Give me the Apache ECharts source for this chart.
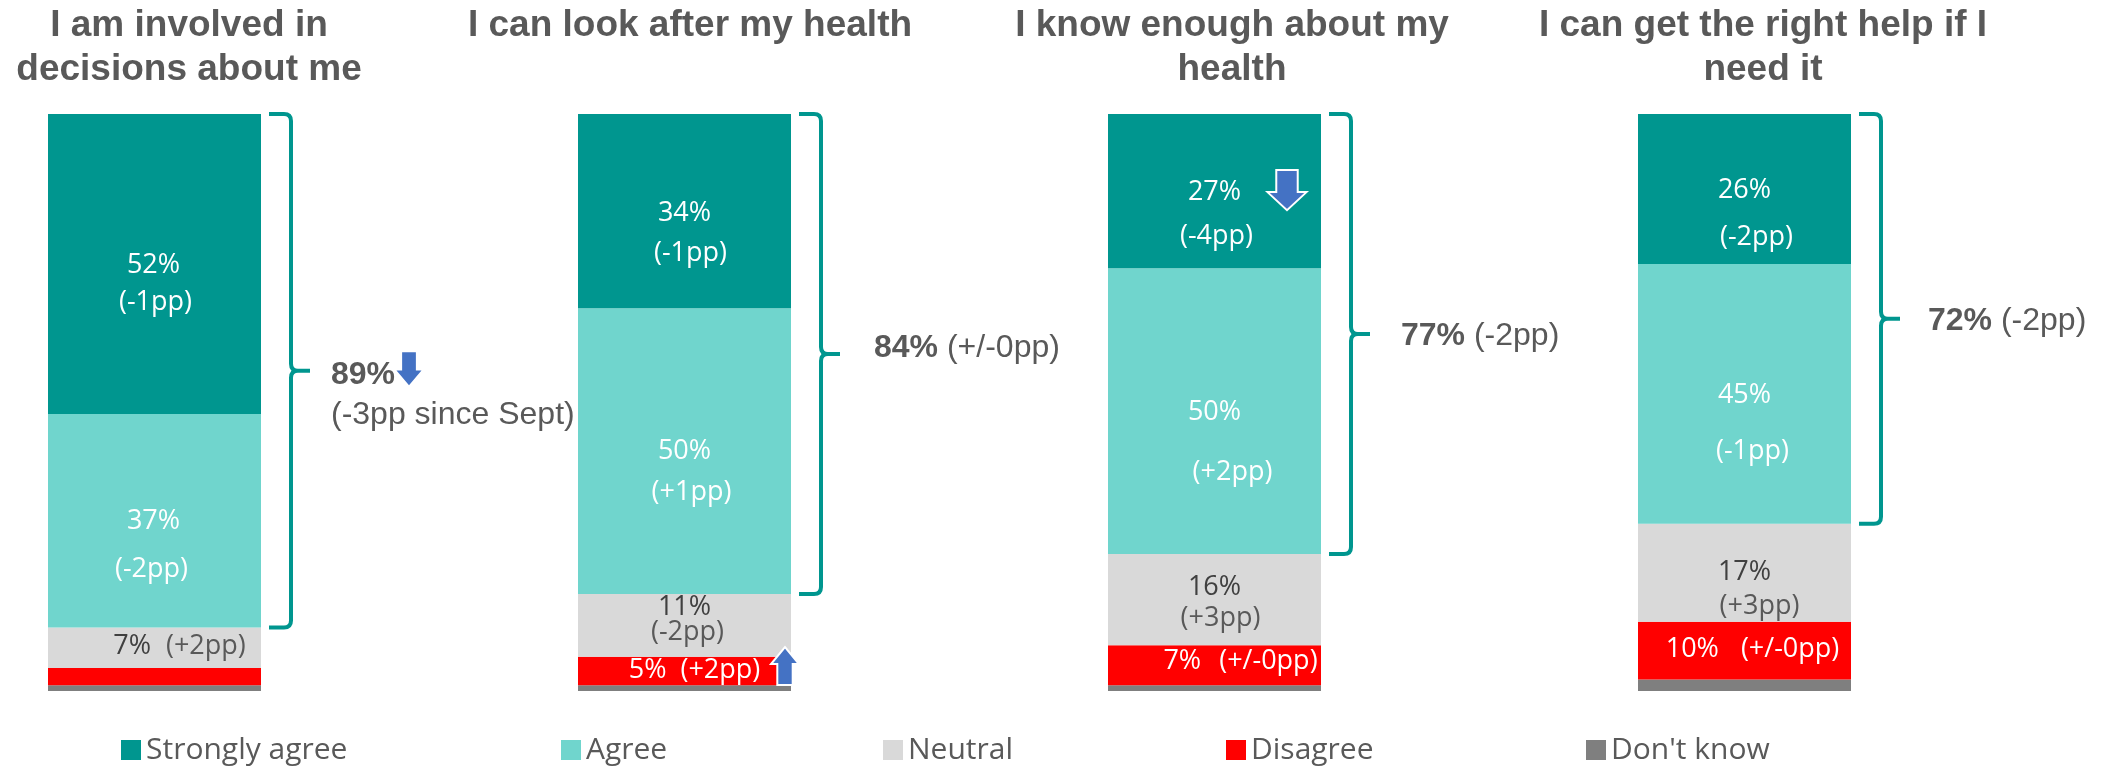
<!DOCTYPE html>
<html>
<head>
<meta charset="utf-8">
<script src="https://cdn.jsdelivr.net/npm/echarts@6/dist/echarts.min.js"></script>
<style>
  html, body { margin: 0; padding: 0; background: #fff; }
  #chart { width: 2113px; height: 767px; }
</style>
</head>
<body>
<div id="chart"></div>
<script>
// --- data -------------------------------------------------------------
const panelTitles = [
  'I am involved in\ndecisions about me',
  'I can look after my health',
  'I know enough about my\nhealth',
  'I can get the right help if I\nneed it'
]
const legendNames = ['Strongly agree', 'Agree', 'Neutral', 'Disagree', "Don't know"]

const stronglyAgree = [52, 34, 27, 26]
const agree = [37, 50, 50, 45]
const neutral = [7, 11, 16, 17]
const disagree = [3, 5, 7, 10]
const dontKnow = [1, 1, 1, 2]

const changeStronglyAgree = ['(-1pp)', '(-1pp)', '(-4pp)', '(-2pp)']
const changeAgree = ['(-2pp)', '(+1pp)', '(+2pp)', '(-1pp)']
const changeNeutral = ['(+2pp)', '(-2pp)', '(+3pp)', '(+3pp)']
const changeDisagree = [null, '(+2pp)', '(+/-0pp)', '(+/-0pp)']

const netAgree = [89, 84, 77, 72]
const netChange = ['(-3pp since Sept)', '(+/-0pp)', '(-2pp)', '(-2pp)']

// --- look & layout ------------------------------------------------------
const segOrder = ['dontKnow', 'disagree', 'neutral', 'agree', 'stronglyAgree'] // bottom -> top
const values = { stronglyAgree, agree, neutral, disagree, dontKnow }
const changes = {
  stronglyAgree: changeStronglyAgree,
  agree: changeAgree,
  neutral: changeNeutral,
  disagree: changeDisagree,
  dontKnow: [null, null, null, null]
}
const names = {
  stronglyAgree: legendNames[0],
  agree: legendNames[1],
  neutral: legendNames[2],
  disagree: legendNames[3],
  dontKnow: legendNames[4]
}
const colors = {
  stronglyAgree: '#00968F',
  agree: '#70D5CD',
  neutral: '#D9D9D9',
  disagree: '#FF0000',
  dontKnow: '#7F7F7F'
}
const braceColor = '#00968F'
const arrowColor = '#4472C4'
const textGrey = '#595959'
const labelFont = '"Open Sans", "Noto Sans", sans-serif'
const titleFont = '"Liberation Sans", Arial, sans-serif'

const barLeft = [48, 578, 1108, 1638]
const barWidthPx = 213
const gridTop = 114
const gridHeight = 577
const titleCenter = [189, 690, 1232, 1763]
const legendLeft = [121, 561, 883, 1226, 1586]

// label offsets inside each segment (dx2 = extra shift of 2nd line, gap = one-line layout)
const labelLayout = [
  {
    stronglyAgree: { dx: -1, dy: 20, lh: 37, dx2: 2 },
    agree: { dx: -1, dy: 25, lh: 48, dx2: -2 },
    neutral: { dx: 25, dy: -1, gap: 15 }
  },
  {
    stronglyAgree: { dx: 0, dy: 22, lh: 40, dx2: 6 },
    agree: { dx: 0, dy: 21, lh: 41, dx2: 7 },
    neutral: { dx: 0, dy: -5, lh: 25, dx2: 3 },
    disagree: { dx: 10, dy: -1, gap: 14 }
  },
  {
    stronglyAgree: { dx: 0, dy: 23, lh: 44, dx2: 2 },
    agree: { dx: 0, dy: 31, lh: 60, dx2: 18 },
    neutral: { dx: 0, dy: 3, lh: 31, dx2: 6 },
    disagree: { dx: 26, dy: -4, gap: 18 }
  },
  {
    stronglyAgree: { dx: 0, dy: 25, lh: 47, dx2: 12 },
    agree: { dx: 0, dy: 29, lh: 56, dx2: 8 },
    neutral: { dx: 0, dy: 17, lh: 34, dx2: 15 },
    disagree: { dx: 8, dy: -1, gap: 22 }
  }
]

const summaryLayout = [
  { dx: 21, dy: 24, wrap: true },
  { dx: 34, dy: -6 },
  { dx: 31, dy: 2 },
  { dx: 28, dy: 2 }
]

const arrowLayout = [
  [{ ref: 'tip', dx: 99, dy: -2, w: 25, h: 33, up: false, outline: false }],
  [{ ref: 'disagree', dx: -6, dy: -5, w: 28, h: 38, up: true, outline: true }],
  [{ ref: 'stronglyAgree', dx: -34, dy: -1, w: 39, h: 40, up: false, outline: true }],
  []
]

// --- helpers ------------------------------------------------------------
const buildLabel = (key, v, chg, lay) => {
  const dark = key === 'neutral'
  const base = { fontFamily: labelFont, fontSize: 27 }
  const pColor = dark ? '#404040' : '#fff'
  const cColor = dark ? textGrey : '#fff'
  if (lay.gap != null) {
    return {
      show: true,
      position: 'inside',
      offset: [lay.dx, lay.dy],
      formatter: `{p|${v}%}{c|${chg}}`,
      rich: {
        p: { ...base, color: pColor, lineHeight: 30 },
        c: { ...base, color: cColor, lineHeight: 30, padding: [0, 0, 0, lay.gap] }
      }
    }
  }
  const pad = lay.dx2 >= 0 ? [0, 0, 0, 2 * lay.dx2] : [0, -2 * lay.dx2, 0, 0]
  return {
    show: true,
    position: 'inside',
    offset: [lay.dx, lay.dy],
    formatter: `{p|${v}%}\n{c|${chg}}`,
    rich: {
      p: { ...base, color: pColor, lineHeight: lay.lh },
      c: { ...base, color: cColor, lineHeight: lay.lh, padding: pad }
    }
  }
}

const arrowPoints = (cx, cy, w, h, up) => {
  const sw = w * 0.55
  const hh = h * 0.45
  const pts = [
    [cx - sw / 2, 0], [cx + sw / 2, 0], [cx + sw / 2, h - hh], [cx + w / 2, h - hh],
    [cx, h], [cx - w / 2, h - hh], [cx - sw / 2, h - hh]
  ]
  return pts.map(([x, y]) => [x, up ? cy + h / 2 - y : cy - h / 2 + y])
}

const makeBrace = (i) => (params, api) => {
  const lo = api.value(1)
  const hi = api.value(2)
  const pTop = api.coord([0, hi])
  const pBot = api.coord([0, lo])
  const band = api.size([1, 0])[0]
  const right = pTop[0] + band / 2
  const sx = right + 8
  const vx = right + 30
  const tx = right + 49
  const yt = pTop[1]
  const yb = pBot[1]
  const ym = (yt + yb) / 2
  const r = 7
  const pathData =
    `M${sx} ${yt} L${vx - r} ${yt} Q${vx} ${yt} ${vx} ${yt + r} L${vx} ${ym - r} ` +
    `Q${vx} ${ym} ${vx + r} ${ym} L${tx} ${ym} M${vx + r} ${ym} Q${vx} ${ym} ${vx} ${ym + r} ` +
    `L${vx} ${yb - r} Q${vx} ${yb} ${vx - r} ${yb} L${sx} ${yb}`

  const sl = summaryLayout[i]
  const text = sl.wrap
    ? `{b|${netAgree[i]}%}\n{n|${netChange[i]}}`
    : `{b|${netAgree[i]}%}{n| ${netChange[i]}}`

  const children = [
    {
      type: 'path',
      shape: { pathData },
      style: { stroke: braceColor, lineWidth: 4, fill: 'none' }
    },
    {
      type: 'text',
      x: tx + sl.dx,
      y: ym + sl.dy,
      style: {
        text,
        align: 'left',
        verticalAlign: 'middle',
        fill: textGrey,
        rich: {
          b: { fontFamily: titleFont, fontSize: 32, fontWeight: 'bold', color: textGrey, lineHeight: 40 },
          n: { fontFamily: titleFont, fontSize: 32, color: textGrey, lineHeight: 40 }
        }
      }
    }
  ]

  arrowLayout[i].forEach((a) => {
    let cx
    let cy
    if (a.ref === 'tip') {
      cx = tx + a.dx
      cy = ym + a.dy
    } else {
      let below = 0
      for (const k of segOrder) {
        if (k === a.ref) break
        below += values[k][i]
      }
      cx = right + a.dx
      cy = api.coord([0, below + values[a.ref][i] / 2])[1] + a.dy
    }
    children.push({
      type: 'polygon',
      shape: { points: arrowPoints(cx, cy, a.w, a.h, a.up) },
      style: {
        fill: arrowColor,
        stroke: a.outline ? '#fff' : null,
        lineWidth: a.outline ? 2 : 0
      }
    })
  })

  return { type: 'group', children }
}

// --- option -------------------------------------------------------------
const grids = []
const xAxes = []
const yAxes = []
const series = []

panelTitles.forEach((_, i) => {
  const total = segOrder.reduce((s, k) => s + values[k][i], 0)
  const low = dontKnow[i] + disagree[i] + neutral[i]

  grids.push({ left: barLeft[i], top: gridTop, width: barWidthPx, height: gridHeight })
  xAxes.push({ gridIndex: i, type: 'category', data: ['q'], show: false })
  yAxes.push({ gridIndex: i, type: 'value', min: 0, max: total, show: false })

  segOrder.forEach((k) => {
    const v = values[k][i]
    const chg = changes[k][i]
    const lay = labelLayout[i][k]
    const item = { value: v }
    if (chg && lay) item.label = buildLabel(k, v, chg, lay)
    series.push({
      type: 'bar',
      name: names[k],
      xAxisIndex: i,
      yAxisIndex: i,
      stack: 's' + i,
      barWidth: '100%',
      silent: true,
      itemStyle: { color: colors[k] },
      label: { show: false },
      data: [item]
    })
  })

  series.push({
    type: 'custom',
    xAxisIndex: i,
    yAxisIndex: i,
    z: 10,
    silent: true,
    encode: { x: 0, y: [1, 2] },
    data: [[0, low, total]],
    renderItem: makeBrace(i)
  })
})

const option = {
  animation: false,
  backgroundColor: '#fff',
  title: panelTitles.map((t, i) => ({
    text: t,
    left: titleCenter[i],
    top: 4,
    textAlign: 'center',
    padding: 0,
    textStyle: {
      fontFamily: titleFont,
      fontWeight: 'bold',
      fontSize: 37,
      lineHeight: 44,
      color: textGrey
    }
  })),
  legend: legendNames.map((n, i) => ({
    data: [n],
    left: legendLeft[i],
    top: 735,
    padding: 0,
    itemWidth: 20,
    itemHeight: 20,
    icon: 'rect',
    selectedMode: false,
    textStyle: { fontFamily: labelFont, fontSize: 30, color: textGrey }
  })),
  grid: grids,
  xAxis: xAxes,
  yAxis: yAxes,
  series
}

const chart = echarts.init(document.getElementById('chart'))
chart.setOption(option)
</script>
</body>
</html>
